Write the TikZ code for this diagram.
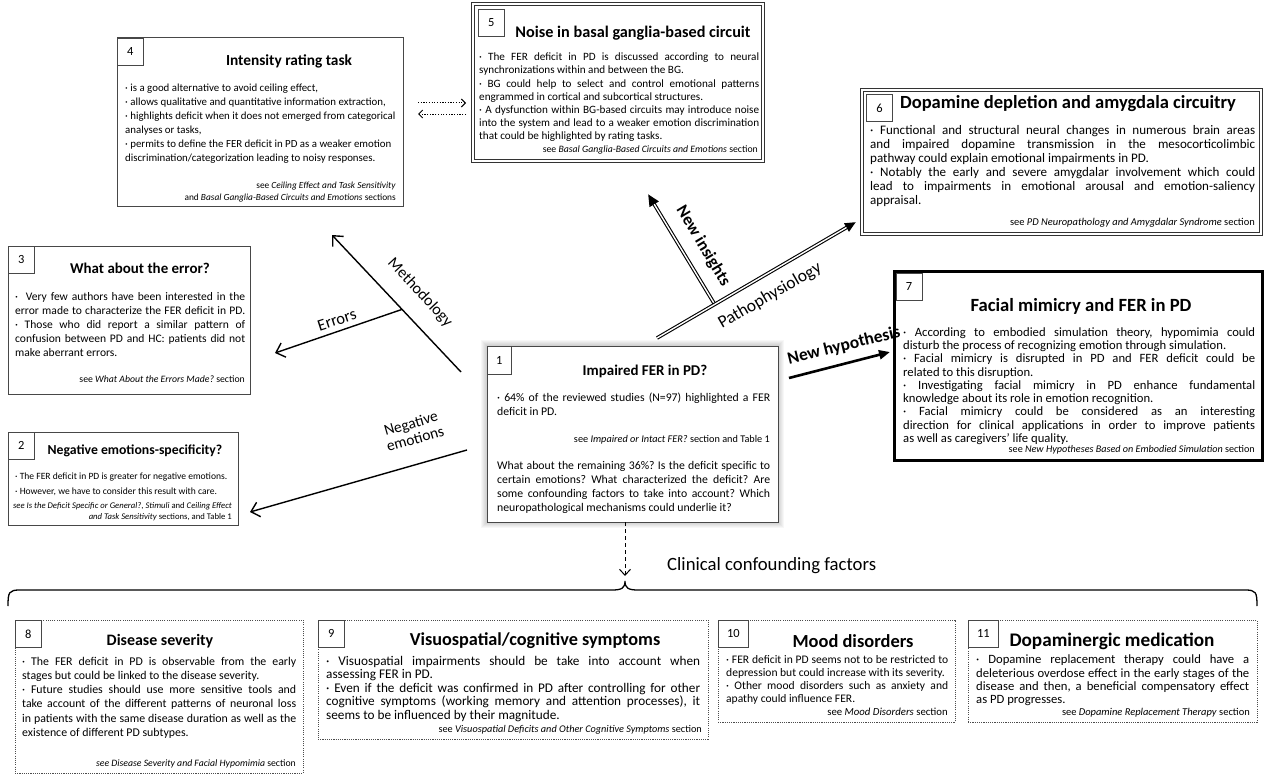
\documentclass[tikz,border=0pt]{standalone}
\usepackage{fontspec}
\setmainfont{Carlito}
\usetikzlibrary{arrows.meta,calc}
\newcommand\J[1]{\makebox[\W][s]{#1}}
\newcommand\fs[2]{\fontsize{#1}{#2}\selectfont}
\def\W{100bp}
\frenchspacing
\begin{document}
\begin{tikzpicture}[x=1bp,y=-1bp,
  frame/.style={draw=black!72, line width=1bp, fill=white, inner sep=0pt, outer sep=0pt, anchor=north west},
  dframe/.style={frame, draw=black!70, line width=0.7bp, dash pattern=on 1.1bp off 1.1bp},
  numbox/.style={draw=black!72, line width=0.8bp, fill=white, inner sep=0pt, minimum width=26bp, minimum height=27bp, anchor=north west, font=\fs{12.5}{14}},
  ttl/.style={inner sep=0pt, font=\bfseries\fs{#1}{20}},
  bodyl/.style={inner sep=0pt, anchor=north west, align=left},
  foot/.style={inner sep=0pt, anchor=north east, align=right},
  lab/.style={inner sep=0pt, font=\fs{#1}{17}},
  labb/.style={inner sep=0pt, font=\bfseries\fs{#1}{18}},
  arr/.style={line width=1.4bp, -{Straight Barb[length=8bp,width=15bp,line width=1.4bp]}},
  dotarr/.style={line width=1bp, dash pattern=on 1.2bp off 1.5bp, -{Straight Barb[length=4bp,width=8bp,line width=1bp]}},
]
\useasboundingbox[fill=white] (0,0) rectangle (1270,774);

% ---------------- Box 4
\node[frame, minimum width=286bp, minimum height=168bp] (b4) at (117,38) {};
\node[numbox] (n4) at (b4.north west) {4};
\node[ttl=15.4] (t4) at (289,61) {Intensity rating task};
\node[bodyl, font=\fs{10.9}{14.2}] (x4) at (125,83.5) {· is a good alternative to avoid ceiling effect,\\
· allows qualitative and quantitative information extraction,\\
· highlights deficit when it does not emerged from categorical\\
analyses or tasks,\\
· permits to define the FER deficit in PD as a weaker emotion\\
discrimination/categorization leading to noisy responses.};
\node[foot, font=\fs{9.4}{12}] (f4) at (396,181.5) {see \textit{Ceiling Effect and Task Sensitivity}\\
and \textit{Basal Ganglia-Based Circuits and Emotions} sections};

% ---------------- Box 5
\node[frame, draw=black!80, line width=0.9bp, double=white, double distance=1.8bp, minimum width=290bp, minimum height=157bp] (b5) at (473,4) {};
\node[numbox] (n5) at (478,9) {5};
\node[ttl=16.3] (t5) at (633,33) {Noise in basal ganglia-based circuit};
\def\W{280bp}
\node[bodyl, font=\fs{11.2}{13.1}] (x5) at (479,53) {\J{· The FER deficit in PD is discussed according to neural}\\
synchronizations within and between the BG.\\
\J{· BG could help to select and control emotional patterns}\\
engrammed in cortical and subcortical structures.\\
\J{· A dysfunction within BG-based circuits may introduce noise}\\
\J{into the system and lead to a weaker emotion discrimination}\\
that could be highlighted by rating tasks.};
\node[foot, font=\fs{9.8}{12}] (f5) at (758,146) {see \textit{Basal Ganglia-Based Circuits and Emotions} section};

% ---------------- Box 6
\node[frame, draw=black!80, line width=0.9bp, double=white, double distance=1.8bp, minimum width=399bp, minimum height=144bp] (b6) at (862,90) {};
\node[numbox] (n6) at (866,94) {6};
\node[ttl=18.6] (t6) at (1068,104) {Dopamine depletion and amygdala circuitry};
\def\W{385bp}
\node[bodyl, font=\fs{13.1}{14.1}] (x6) at (870,125.5) {\J{· Functional and structural neural changes in numerous brain areas}\\
\J{and impaired dopamine transmission in the mesocorticolimbic}\\
pathway could explain emotional impairments in PD.\\
\J{· Notably the early and severe amygdalar involvement which could}\\
\J{lead to impairments in emotional arousal and emotion-saliency}\\
appraisal.};
\node[foot, font=\fs{10.5}{12}] (f6) at (1255,218.5) {see \textit{PD Neuropathology and Amygdalar Syndrome} section};

% ---------------- Box 3
\node[frame, minimum width=242bp, minimum height=148bp] (b3) at (8,246) {};
\node[numbox] (n3) at (b3.north west) {3};
\node[ttl=15] (t3) at (140,268) {What about the error?};
\def\W{230bp}
\node[bodyl, font=\fs{11.6}{14.1}] (x3) at (15,292) {\J{·\ \ Very few authors have been interested in the}\\
\J{error made to characterize the FER deficit in PD.}\\
\J{· Those who did report a similar pattern of}\\
\J{confusion between PD and HC: patients did not}\\
make aberrant errors.};
\node[foot, font=\fs{9.8}{12}] (f3) at (245,376) {see \textit{What About the Errors Made?} section};

% ---------------- Box 2
\node[frame, minimum width=230bp, minimum height=93bp] (b2) at (8,432) {};
\node[numbox] (n2) at (b2.north west) {2};
\node[ttl=13.8] (t2) at (135,451) {Negative emotions-specificity?};
\node[bodyl, font=\fs{9.6}{14.5}] (x2) at (15,473) {· The FER deficit in PD is greater for negative emotions.\\
· However, we have to consider this result with care.};
\node[foot, font=\fs{8.7}{11.8}] (f2) at (232,502) {\textit{see Is the Deficit Specific or General?}, \textit{Stimuli} and \textit{Ceiling Effect}\\
\textit{and Task Sensitivity} sections, and Table 1};

% ---------------- Box 1 (with soft shadow)
\foreach \k in {1,...,6}{\fill[black, opacity=0.03] (487-\k,346-\k) rectangle (778+\k,522+\k);}
\node[frame, minimum width=291bp, minimum height=176bp] (b1) at (487,346) {};
\node[numbox, minimum width=24bp, minimum height=28bp] (n1) at (b1.north west) {1};
\node[ttl=15] (t1) at (645,371) {Impaired FER in PD?};
\def\W{273bp}
\node[bodyl, font=\fs{11.8}{14.1}] (x1) at (497,393) {\J{· 64\% of the reviewed studies (N=97) highlighted a FER}\\
deficit in PD.};
\node[foot, font=\fs{10.3}{12}] (f1) at (770,435) {see \textit{Impaired or Intact FER?} section and Table 1};
\node[bodyl, font=\fs{11.8}{14.1}] (y1) at (497,461) {\J{What about the remaining 36\%? Is the deficit specific to}\\
\J{certain emotions? What characterized the deficit? Are}\\
\J{some confounding factors to take into account? Which}\\
neuropathological mechanisms could underlie it?};

% ---------------- Box 7
\node[frame, draw=black, line width=3bp, minimum width=368bp, minimum height=189bp] (b7) at (894,271) {};
\node[numbox] (n7) at (895.5,272.5) {7};
\node[ttl=18.7] (t7) at (1081,306) {Facial mimicry and FER in PD};
\def\W{352bp}
\node[bodyl, font=\fs{12.7}{13.3}] (x7) at (903,327.5) {\J{· According to embodied simulation theory, hypomimia could}\\
disturb the process of recognizing emotion through simulation.\\
\J{· Facial mimicry is disrupted in PD and FER deficit could be}\\
related to this disruption.\\
\J{· Investigating facial mimicry in PD enhance fundamental}\\
knowledge about its role in emotion recognition.\\
\J{· Facial mimicry could be considered as an interesting}\\
\J{direction for clinical applications in order to improve patients}\\
as well as caregivers’ life quality.};
\node[foot, font=\fs{10.2}{12}] (f7) at (1255,445.5) {see \textit{New Hypotheses Based on Embodied Simulation} section};

% ---------------- Bottom boxes
\node[dframe, minimum width=288bp, minimum height=153bp] (b8) at (15,620) {};
\node[numbox] (n8) at (b8.north west) {8};
\node[ttl=16] (t8) at (160,641) {Disease severity};
\def\W{274bp}
\node[bodyl, font=\fs{11.9}{14.2}] (x8) at (22,657) {\J{· The FER deficit in PD is observable from the early}\\
stages but could be linked to the disease severity.\\
\J{· Future studies should use more sensitive tools and}\\
\J{take account of the different patterns of neuronal loss}\\
\J{in patients with the same disease duration as well as the}\\
existence of different PD subtypes.};
\node[foot, font=\fs{9.8}{12}] (f8) at (296,760) {\textit{see Disease Severity and Facial Hypomimia} section};

\node[dframe, minimum width=390bp, minimum height=119bp] (b9) at (318,620) {};
\node[numbox] (n9) at (b9.north west) {9};
\node[ttl=18.3] (t9) at (535,641) {Visuospatial/cognitive symptoms};
\def\W{374bp}
\node[bodyl, font=\fs{13.3}{13.5}] (x9) at (326,656) {\J{· Visuospatial impairments should be take into account when}\\
assessing FER in PD.\\
\J{· Even if the deficit was confirmed in PD after controlling for other}\\
\J{cognitive symptoms (working memory and attention processes), it}\\
seems to be influenced by their magnitude.};
\node[foot, font=\fs{10.3}{12}] (f9) at (702,725) {see \textit{Visuospatial Deficits and Other Cognitive Symptoms} section};

\node[dframe, minimum width=237bp, minimum height=102bp] (b10) at (718,620) {};
\node[numbox, minimum width=30bp] (n10) at (b10.north west) {10};
\node[ttl=18.5] (t10) at (853,641) {Mood disorders};
\def\W{222bp}
\node[bodyl, font=\fs{11.6}{13.3}] (x10) at (726,655) {\J{· FER deficit in PD seems not to be restricted to}\\
depression but could increase with its severity.\\
\J{· Other mood disorders such as anxiety and}\\
apathy could influence FER.};
\node[foot, font=\fs{10.8}{12}] (f10) at (948,708) {see \textit{Mood Disorders} section};

\node[dframe, minimum width=289bp, minimum height=102bp] (b11) at (968,620) {};
\node[numbox, minimum width=30bp] (n11) at (b11.north west) {11};
\node[ttl=19.3] (t11) at (1112,641) {Dopaminergic medication};
\def\W{273bp}
\node[bodyl, font=\fs{12.7}{13.3}] (x11) at (976,655) {\J{· Dopamine replacement therapy could have a}\\
\J{deleterious overdose effect in the early stages of the}\\
\J{disease and then, a beneficial compensatory effect}\\
as PD progresses.};
\node[foot, font=\fs{10.5}{12}] (f11) at (1250,708) {see \textit{Dopamine Replacement Therapy} section};

% ---------------- Connectors
\coordinate (mS) at (461,372); \coordinate (mE) at (332,235);
\coordinate (eS) at ($(mS)!0.457!(mE)$); \coordinate (eE) at (275,353);
\coordinate (nS) at (467,450); \coordinate (nE) at (250,512);
\coordinate (pS) at (657,338); \coordinate (pE) at (856,222);
\coordinate (iS) at ($(pS)!0.29!(pE)$); \coordinate (iE) at (648,194);
\coordinate (hS) at (789,378); \coordinate (hE) at (890,352);
\coordinate (dS) at (625,522); \coordinate (dE) at (625,576);
\coordinate (da1) at (418,103); \coordinate (da2) at (466,103);
\coordinate (db1) at (466,114); \coordinate (db2) at (418,114);

\draw[arr] (mS) -- (mE);
\draw[arr] (eS) -- (eE);
\draw[arr] (nS) -- (nE);
\draw[line width=3.6bp, -{Triangle[length=12bp,width=10bp]}] (iS) -- (iE);
\draw[white, line width=1.4bp, shorten >=12bp] (iS) -- (iE);
\draw[line width=3.6bp, -{Triangle[length=11bp,width=9bp]}] (pS) -- (pE);
\draw[white, line width=1.4bp, shorten >=11bp] (pS) -- (pE);
\draw[line width=2.6bp, -{Triangle[length=11bp,width=9bp]}] (hS) -- (hE);
\draw[line width=1bp, dash pattern=on 4bp off 3bp, -{Straight Barb[length=6bp,width=11bp,line width=1bp]}] (dS) -- (dE);
\draw[dotarr] (da1) -- (da2);
\draw[dotarr] (db1) -- (db2);

% labels
\node[lab=16, rotate=-47] (lm) at (420,293) {Methodology};
\node[lab=16.5, rotate=18] (le) at (337,320) {Errors};
\node[lab=15.5, rotate=16, align=center, font=\fs{15.5}{16}] (ln) at (413,431) {Negative\\emotions};
\node[labb=17, rotate=-59] (li) at (703,246) {New insights};
\node[lab=17.5, rotate=30] (lp) at (770,296) {Pathophysiology};
\node[labb=17.5, rotate=14] (lh) at (844,346) {New hypothesis};
\node[inner sep=0pt, anchor=west, font=\fs{18.8}{20}] (cc) at (667,566) {Clinical confounding factors};

% brace
\coordinate (bl) at (8,606); \coordinate (bm) at (625,581); \coordinate (br) at (1257,606);
\draw[line width=1.3bp] (bl) .. controls (8,592) and (9,590) .. (20,590) -- (612,590)
  .. controls (622,590) and (625,588) .. (bm)
  .. controls (625,588) and (628,590) .. (638,590) -- (1245,590)
  .. controls (1256,590) and (1257,592) .. (br);
\end{tikzpicture}
\end{document}
